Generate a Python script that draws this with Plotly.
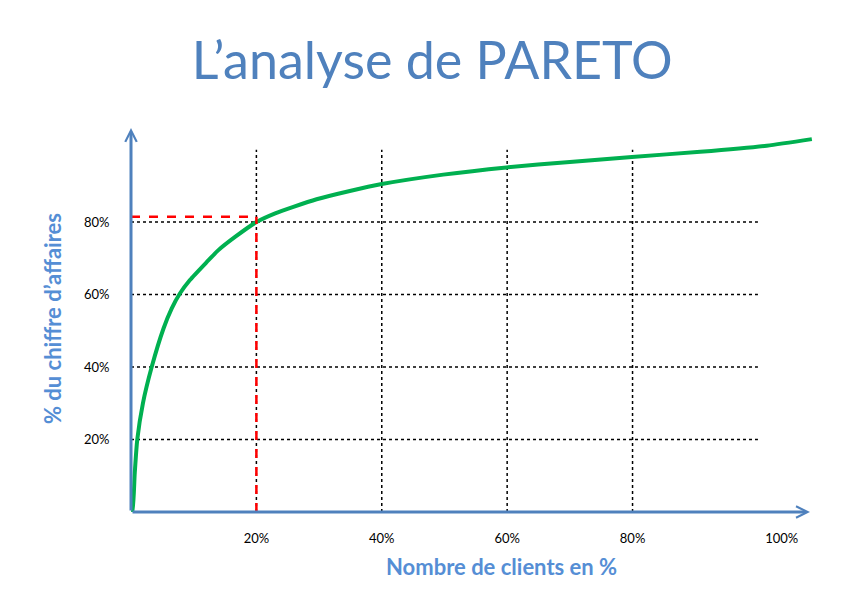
import plotly.graph_objects as go

# ---- data (percent units) ----
clients_pct = [0, 0.2, 0.6, 1.0, 1.9, 3.3, 5.2, 6.5, 7.8, 9.4, 12.1, 13.9, 16.6, 20.0,
               23.0, 25.9, 29.6, 34.9, 40.0, 49.8, 59.9, 70.0, 79.9, 90.8, 101.4, 108.6]
ca_pct = [0, 0, 10.8, 20, 30, 40, 50.7, 56.2, 60.3, 64.0, 69.0, 72.2, 75.9, 80.0,
          82.4, 84.2, 86.3, 88.6, 90.5, 93.1, 95.1, 96.6, 98.0, 99.4, 101.1, 102.9]

grid_vals = [20, 40, 60, 80]
x_tick_vals = [20, 40, 60, 80, 103.8]
x_tick_text = ["20%", "40%", "60%", "80%", "100%"]
y_tick_vals = [20, 40, 60, 80]
y_tick_text = ["20%", "40%", "60%", "80%"]
grid_max = 100
marker_x = 20
marker_y = 81.5
x_axis_end = 108.3
y_axis_end = 106.0

BLUE = "#4F81BD"
TITLE_BLUE = "#558ED5"
FONT = "Lato"

fig = go.Figure()

# pareto curve
fig.add_trace(go.Scatter(
    x=clients_pct, y=ca_pct, mode="lines",
    line=dict(color="#00B050", width=4, shape="spline", smoothing=0.6),
    hoverinfo="skip", showlegend=False,
))

shapes = []
# dotted grid lines
for g in grid_vals:
    shapes.append(dict(type="line", xref="x", yref="y", x0=g, x1=g, y0=0, y1=grid_max,
                       line=dict(color="black", width=1.5, dash="dot"), layer="below"))
    shapes.append(dict(type="line", xref="x", yref="y", x0=0, x1=grid_max, y0=g, y1=g,
                       line=dict(color="black", width=1.5, dash="dot"), layer="below"))
# red dashed 20/80 markers
shapes.append(dict(type="line", xref="x", yref="y", x0=0, x1=marker_x, y0=marker_y, y1=marker_y,
                   line=dict(color="#FF0000", width=2.5, dash="dash")))
shapes.append(dict(type="line", xref="x", yref="y", x0=marker_x, x1=marker_x, y0=0, y1=marker_y,
                   line=dict(color="#FF0000", width=2.5, dash="dash")))

annotations = [
    # axes with arrows
    dict(x=x_axis_end, y=0, ax=0, ay=0, xref="x", yref="y", axref="x", ayref="y",
         showarrow=True, arrowhead=5, arrowsize=0.75, arrowwidth=3, arrowcolor=BLUE,
         text="", standoff=0, startstandoff=0),
    dict(x=0, y=y_axis_end, ax=0, ay=0, xref="x", yref="y", axref="x", ayref="y",
         showarrow=True, arrowhead=5, arrowsize=0.75, arrowwidth=3, arrowcolor=BLUE,
         text="", standoff=0, startstandoff=0),
    # x axis title (sits right of the plot centre in the original)
    dict(text="<b>Nombre de clients en %</b>", xref="paper", yref="paper",
         x=0.538, y=-0.142, xanchor="center", yanchor="middle", showarrow=False,
         font=dict(family=FONT, size=22, color=TITLE_BLUE)),
]

# the page body has an 8px margin, so the figure is 8px smaller on each side
fig.update_layout(
    width=852, height=586,
    margin=dict(l=123, r=40, t=117, b=82),
    paper_bgcolor="white", plot_bgcolor="white",
    showlegend=False,
    title=dict(text="L’analyse de PARETO", x=0.498, xanchor="center", y=0.91, yanchor="middle",
               font=dict(family=FONT, size=52, color=BLUE)),
    xaxis=dict(range=[0, 109.9], showgrid=False, zeroline=False, showline=False,
               tickmode="array", tickvals=x_tick_vals, ticktext=x_tick_text,
               ticks="outside", ticklen=14, tickcolor="rgba(0,0,0,0)",
               tickfont=dict(family=FONT, size=13, color="black"),
               fixedrange=True),
    yaxis=dict(range=[0, 106.8], showgrid=False, zeroline=False, showline=False,
               tickmode="array", tickvals=y_tick_vals, ticktext=y_tick_text,
               ticks="outside", ticklen=18, tickcolor="rgba(0,0,0,0)",
               tickfont=dict(family=FONT, size=13, color="black"),
               title=dict(text="<b>% du chiffre d’affaires</b>", standoff=16,
                          font=dict(family=FONT, size=22, color=TITLE_BLUE)),
               fixedrange=True),
    shapes=shapes,
    annotations=annotations,
)

fig.write_html("out.html")
